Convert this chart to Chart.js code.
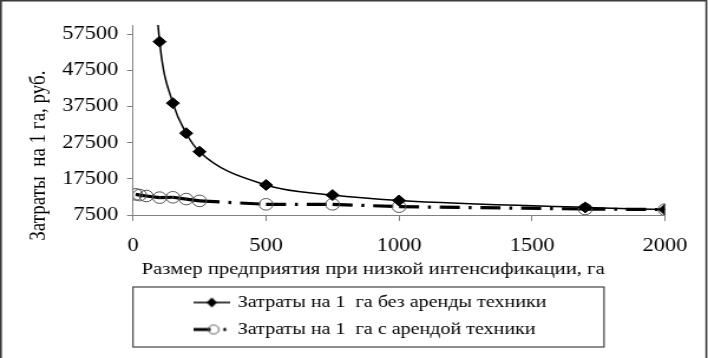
<!DOCTYPE html>
<html><head><meta charset="utf-8">
<script src="https://cdn.jsdelivr.net/npm/chart.js@4/dist/chart.umd.min.js"></script>
<style>
html,body{margin:0;padding:0;background:#fff;overflow:hidden}
#wrap{width:600px;height:358px;transform:scaleX(1.18);transform-origin:0 0}
</style>
</head><body>
<div id="wrap"><canvas id="c" width="600" height="358"></canvas></div>
<script>
// ---- data ----
const xAxisTitle = 'Размер предприятия при низкой интенсификации, га';
const yAxisTitle = 'Затраты  на 1 га, руб.';
const seriesNames = ['Затраты на 1  га без аренды техники', 'Затраты на 1  га с арендой техники'];
const xNoRent = [50, 100, 150, 200, 250, 500, 750, 1000, 1700, 2000];
const yNoRent = [106500, 55400, 38400, 30100, 25000, 15800, 13000, 11500, 9600, 9000];
const xRent = [10, 25, 50, 100, 150, 200, 250, 500, 750, 1000, 1700, 2000];
const yRent = [13200, 13000, 12750, 12300, 12400, 11900, 11400, 10450, 10450, 9800, 9150, 9000];
const yTicks = [7500, 17500, 27500, 37500, 47500, 57500];
const xTicks = [0, 500, 1000, 1500, 2000];

const FONT = "'Liberation Serif','Times New Roman',serif";

function makeIcon(kind) {
  const cv = document.createElement('canvas');
  cv.width = 31; cv.height = 14;
  const g = cv.getContext('2d');
  const cy = 7;
  if (kind === 0) {
    g.strokeStyle = '#000'; g.lineWidth = 1.5;
    g.beginPath(); g.moveTo(0, cy); g.lineTo(31, cy); g.stroke();
    g.fillStyle = '#000';
    g.beginPath(); g.moveTo(16, cy - 5); g.lineTo(20.5, cy); g.lineTo(16, cy + 5); g.lineTo(11.5, cy); g.closePath(); g.fill();
  } else {
    g.strokeStyle = '#000'; g.lineWidth = 3;
    g.beginPath(); g.moveTo(0, cy); g.lineTo(15, cy); g.stroke();
    g.strokeStyle = '#555'; g.lineWidth = 1;
    g.beginPath(); g.arc(17.5, cy, 4.5, 0, Math.PI * 2); g.stroke();
    g.fillStyle = '#000'; g.fillRect(25.8, cy - 1.5, 2.4, 3);
  }
  return cv;
}
const icons = [makeIcon(0), makeIcon(1)];

const framePlugin = {
  id: 'frame',
  afterLayout(chart) {
    const lg = chart.legend;
    if (lg) { const dx = 155 - lg.left; lg.left += dx; lg.right += dx; }
  },
  afterDraw(chart) {
    const c = chart.ctx, lg = chart.legend, ca = chart.chartArea;
    c.save();
    c.strokeStyle = '#3a3a3a'; c.lineWidth = 1.6;
    c.beginPath(); c.moveTo(0.8, 358); c.lineTo(0.8, 0.8); c.lineTo(598.6, 0.8); c.lineTo(598.6, 358); c.stroke();
    c.strokeStyle = '#444'; c.lineWidth = 1.2;
    c.strokeRect(ca.left, lg.top + 3, 399.2, 60);
    c.restore();
  }
};

new Chart(document.getElementById('c'), {
  type: 'scatter',
  data: {
    datasets: [
      {
        label: seriesNames[0],
        data: xNoRent.map((x, i) => ({x, y: yNoRent[i]})),
        showLine: true, borderColor: '#000', borderWidth: 1.5,
        cubicInterpolationMode: 'monotone',
        pointStyle: 'rectRot', pointRadius: 5.5,
        pointBackgroundColor: '#000', pointBorderColor: '#000', pointBorderWidth: 1
      },
      {
        label: seriesNames[1],
        data: xRent.map((x, i) => ({x, y: yRent[i]})),
        showLine: true, borderColor: '#000', borderWidth: 3.2,
        borderDash: [17, 7.5, 2.5, 7.5], borderCapStyle: 'butt', tension: 0,
        segment: { borderDashOffset: c => (c.p0DataIndex % 2) * 0.001 },
        pointStyle: 'circle', pointRadius: 5.8,
        pointBackgroundColor: 'rgba(0,0,0,0)', pointBorderColor: '#555', pointBorderWidth: 1
      }
    ]
  },
  options: {
    responsive: false, animation: false, devicePixelRatio: 1,
    layout: { padding: { top: 25, right: 36.4, bottom: 10, left: 0 } },
    plugins: {
      tooltip: { enabled: false },
      legend: {
        position: 'bottom', fullSize: false, align: 'start',
        labels: {
          usePointStyle: true, pointStyleWidth: 28, padding: 10,
          font: { family: FONT, size: 17 }, color: '#000',
          generateLabels: chart => chart.data.datasets.map((d, i) => ({
            text: d.label, pointStyle: icons[i], datasetIndex: i, hidden: false,
            lineWidth: 0, fillStyle: 'rgba(0,0,0,0)', strokeStyle: 'rgba(0,0,0,0)'
          }))
        }
      }
    },
    scales: {
      x: {
        type: 'linear', min: 0, max: 2000,
        afterBuildTicks: s => { s.ticks = xTicks.map(v => ({value: v})); },
        afterFit: s => { s.height = 69; },
        grid: { display: true, drawOnChartArea: false, drawTicks: true, tickLength: 6, color: '#808080' },
        border: { color: '#808080', width: 1 },
        ticks: { padding: 14, font: { family: FONT, size: 19 }, color: '#000', maxRotation: 0, callback: v => String(v) },
        title: { display: true, text: xAxisTitle + ' '.repeat(10), font: { family: FONT, size: 17.5 }, color: '#000', padding: { top: 0, bottom: 4 } }
      },
      y: {
        type: 'linear', min: 7500, max: 60000,
        afterBuildTicks: s => { s.ticks = yTicks.map(v => ({value: v})); },
        afterFit: s => { s.width = 112.7; },
        grid: { display: true, drawOnChartArea: false, drawTicks: true, tickLength: 5, color: '#808080' },
        border: { color: '#808080', width: 1 },
        ticks: { padding: 7.5, font: { family: FONT, size: 19 }, color: '#000', callback: v => String(v) },
        title: { display: true, text: yAxisTitle + ' '.repeat(15), font: { family: FONT, size: 19 }, color: '#000', padding: { top: 21.5, bottom: 0 } }
      }
    }
  },
  plugins: [framePlugin]
});
</script>
</body></html>
